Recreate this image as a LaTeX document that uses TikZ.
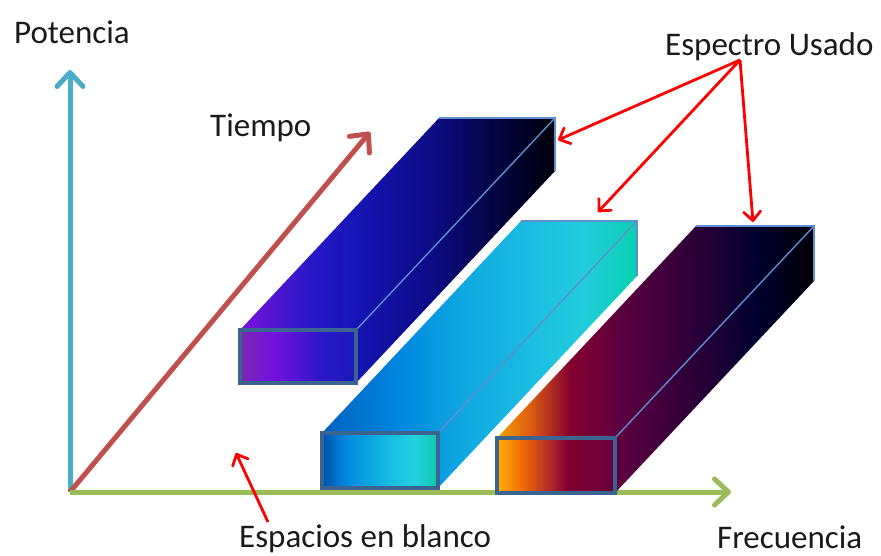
\documentclass[tikz,border=0pt]{standalone}
\usepackage{fontspec}
\setmainfont{Carlito}
\definecolor{ejeazul}{HTML}{4BACC6}
\definecolor{ejeverde}{HTML}{9BBB59}
\definecolor{ejerojo}{HTML}{C0504D}
\definecolor{borde}{HTML}{3B6590}
\definecolor{arista}{HTML}{5F8ED0}
\definecolor{textogris}{HTML}{1A1A1A}
\usetikzlibrary{arrows.meta,positioning,calc}

% gradientes de las caras (25bp..75bp = ancho del trazo)
\pgfdeclarehorizontalshading{azulTop}{100bp}{rgb(0bp)=(0.478,0.071,0.863); rgb(25bp)=(0.478,0.071,0.863);
  rgb(36bp)=(0.157,0.094,0.784); rgb(42.5bp)=(0.086,0.086,0.722); rgb(55bp)=(0.047,0.047,0.533);
  rgb(65bp)=(0.020,0.020,0.271); rgb(75bp)=(0,0,0.04); rgb(100bp)=(0,0,0.04)}
\pgfdeclarehorizontalshading{azulFront}{100bp}{rgb(0bp)=(0.478,0.165,0.690); rgb(25bp)=(0.478,0.165,0.690);
  rgb(40bp)=(0.447,0.063,0.878); rgb(60bp)=(0.165,0.094,0.784); rgb(75bp)=(0.102,0.102,0.722);
  rgb(100bp)=(0.102,0.102,0.722)}
\pgfdeclarehorizontalshading{cianTop}{100bp}{rgb(0bp)=(0,0.376,0.753); rgb(25bp)=(0,0.376,0.753);
  rgb(37.5bp)=(0,0.533,0.878); rgb(47.5bp)=(0.063,0.659,0.878); rgb(60bp)=(0.11,0.753,0.878);
  rgb(66.5bp)=(0.133,0.8,0.863); rgb(75bp)=(0.031,0.816,0.69); rgb(100bp)=(0.031,0.816,0.69)}
\pgfdeclarehorizontalshading{cianFront}{100bp}{rgb(0bp)=(0,0.314,0.659); rgb(25bp)=(0,0.314,0.659);
  rgb(35bp)=(0,0.533,0.878); rgb(55bp)=(0.094,0.753,0.878); rgb(65bp)=(0.133,0.824,0.878);
  rgb(75bp)=(0.063,0.784,0.659); rgb(100bp)=(0.063,0.784,0.659)}
\pgfdeclarehorizontalshading{rojoTop}{100bp}{rgb(0bp)=(0.961,0.627,0); rgb(25bp)=(0.961,0.627,0);
  rgb(30bp)=(0.878,0.376,0.063); rgb(36.5bp)=(0.522,0,0.188); rgb(45bp)=(0.353,0,0.251);
  rgb(56.5bp)=(0.165,0,0.22); rgb(66bp)=(0,0,0.18); rgb(75bp)=(0,0,0.03); rgb(100bp)=(0,0,0.03)}
\pgfdeclarehorizontalshading{rojoFront}{100bp}{rgb(0bp)=(1,0.69,0); rgb(25bp)=(1,0.69,0);
  rgb(35bp)=(0.941,0.439,0); rgb(47.5bp)=(0.69,0.157,0.157); rgb(55bp)=(0.502,0,0.188);
  rgb(75bp)=(0.416,0,0.251); rgb(100bp)=(0.416,0,0.251)}

\tikzset{
  eje/.style={line width=5pt, -{Straight Barb[length=14pt,width=26pt,round]}},
  flecharoja/.style={draw=red, line width=2.8pt, -{Straight Barb[length=9pt,width=17pt,round]}},
  etiqueta/.style={text=textogris, font=\fontsize{33}{40}\selectfont, inner sep=0pt},
  aristafina/.style={draw=arista, line width=1.4pt},
}

\begin{document}
\begin{tikzpicture}[x=1pt,y=-1pt]
  \useasboundingbox[fill=white] (0,0) rectangle (881,555);

  % ejes
  \coordinate (origen) at (70,492);
  \coordinate (potTip) at (70,70);
  \coordinate (tiempoTip) at (370,132);
  \coordinate (frecTip) at (731,492);
  \draw[eje, ejeazul] (origen) -- (potTip);
  \draw[eje, ejerojo] (origen) -- (tiempoTip);
  \draw[eje, ejeverde] (origen) -- (frecTip);

  % bloques de espectro
  \foreach \px/\py/\w/\h/\tope/\frente in {240/330/116/53/azulTop/azulFront,
      322/433/116/55/cianTop/cianFront, 497/438/118/55/rojoTop/rojoFront}{
    \shade[shading=\tope] (\px,\py) -- ++(199,-212) -- ++(\w,0) -- ++(0,\h)
      -- ++(-199,212) -- ++(0,-\h) -- cycle;
    \draw[aristafina] ({\px+\w},\py) -- ++(199,-212);
    \draw[aristafina] ({\px+199},{\py-212}) -- ++(\w,0) -- ++(0,\h);
    \shade[shading=\frente] (\px,\py) rectangle ++(\w,\h);
    \draw[draw=borde, line width=3.5pt] (\px,\py) rectangle ++(\w,\h);
  }

  % textos
  \node[etiqueta, anchor=base west] (potencia) at (14,43) {Potencia};
  \node[etiqueta, anchor=base west] (tiempo) at (210,136) {Tiempo};
  \node[etiqueta, anchor=base west] (usado) at (665,55) {Espectro Usado};
  \node[etiqueta, anchor=base west] (espacios) at (239,547) {Espacios en blanco};
  \node[etiqueta, anchor=base west] (frecuencia) at (717,548) {Frecuencia};

  % flechas rojas
  \coordinate (usadoPt) at (740,60);
  \coordinate (bloqueA) at (558,140);
  \coordinate (bloqueB) at (598,212);
  \coordinate (bloqueC) at (753,222);
  \coordinate (espaciosPt) at (268,522);
  \coordinate (hueco) at (236,453);
  \draw[flecharoja] (usadoPt) -- (bloqueA);
  \draw[flecharoja] (usadoPt) -- (bloqueB);
  \draw[flecharoja] (usadoPt) -- (bloqueC);
  \draw[flecharoja] (espaciosPt) -- (hueco);
\end{tikzpicture}
\end{document}
